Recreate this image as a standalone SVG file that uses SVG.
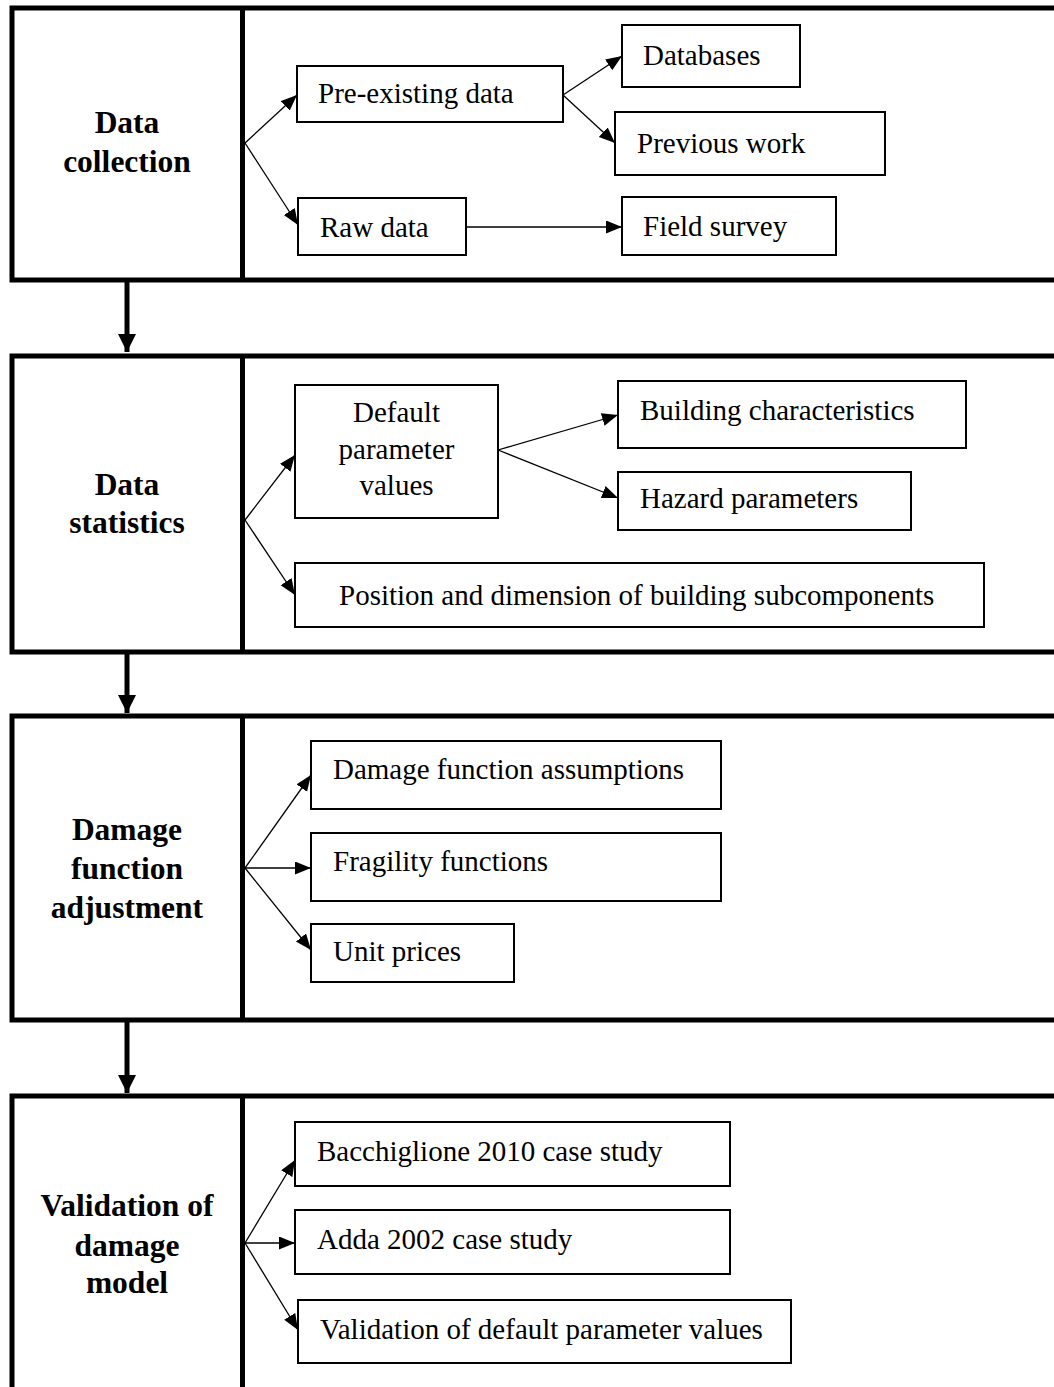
<svg xmlns="http://www.w3.org/2000/svg" width="1054" height="1387" viewBox="0 0 1054 1387">
<style>
.panel{fill:none;stroke:#000;stroke-width:5}
.box{fill:#fff;stroke:#000;stroke-width:2}
.t{font-family:"Liberation Serif","Times New Roman",serif;font-size:29px;fill:#000}
.h{font-family:"Liberation Serif","Times New Roman",serif;font-size:31.5px;font-weight:bold;fill:#000;text-anchor:middle}
.c{fill:none;stroke:#000;stroke-width:1.3}
.big{fill:none;stroke:#000;stroke-width:5}
</style>
<defs>
<marker id="a" markerUnits="userSpaceOnUse" markerWidth="18" markerHeight="14" refX="16" refY="6.5" orient="auto">
<path d="M0,0 L16,6.5 L0,13 z" fill="#000"/>
</marker>
<marker id="b" markerUnits="userSpaceOnUse" markerWidth="20" markerHeight="20" refX="18" refY="9" orient="auto">
<path d="M0,0 L18,9 L0,18 z" fill="#000"/>
</marker>
</defs>
<rect width="1054" height="1387" fill="#fff"/>

<g id="panel1">
<rect class="panel" x="12" y="8" width="1060" height="272"/>
<line class="panel" x1="242.5" y1="8" x2="242.5" y2="280"/>
<text class="h" x="127" y="133">Data</text>
<text class="h" x="127" y="172">collection</text>
</g>
<g id="panel2">
<rect class="panel" x="12" y="356" width="1060" height="296"/>
<line class="panel" x1="242.5" y1="356" x2="242.5" y2="652"/>
<text class="h" x="127" y="495">Data</text>
<text class="h" x="127" y="533">statistics</text>
</g>
<g id="panel3">
<rect class="panel" x="12" y="716" width="1060" height="304"/>
<line class="panel" x1="242.5" y1="716" x2="242.5" y2="1020"/>
<text class="h" x="127" y="840">Damage</text>
<text class="h" x="127" y="879">function</text>
<text class="h" x="127" y="918">adjustment</text>
</g>
<g id="panel4">
<path class="panel" d="M12,1400 L12,1096 L1072,1096"/>
<line class="panel" x1="242.5" y1="1096" x2="242.5" y2="1400"/>
<text class="h" x="127" y="1216">Validation of</text>
<text class="h" x="127" y="1256">damage</text>
<text class="h" x="127" y="1293">model</text>
</g>

<g id="pre-existing"><rect class="box" x="297" y="66" width="266" height="56"/><text class="t" x="318" y="103">Pre-existing data</text></g>
<g id="databases"><rect class="box" x="622" y="25" width="178" height="62"/><text class="t" x="643" y="65">Databases</text></g>
<g id="previous"><rect class="box" x="615" y="112" width="270" height="63"/><text class="t" x="637" y="153">Previous work</text></g>
<g id="raw"><rect class="box" x="298" y="198" width="168" height="57"/><text class="t" x="320" y="237">Raw data</text></g>
<g id="field"><rect class="box" x="622" y="197" width="214" height="58"/><text class="t" x="643" y="236">Field survey</text></g>

<g id="default"><rect class="box" x="295" y="385" width="203" height="133"/>
<text class="t" x="396.5" y="422" text-anchor="middle">Default</text>
<text class="t" x="396.5" y="459" text-anchor="middle">parameter</text>
<text class="t" x="396.5" y="495" text-anchor="middle">values</text></g>
<g id="building"><rect class="box" x="618" y="381" width="348" height="67"/><text class="t" x="640" y="420">Building characteristics</text></g>
<g id="hazard"><rect class="box" x="618" y="472" width="293" height="58"/><text class="t" x="640" y="508">Hazard parameters</text></g>
<g id="position"><rect class="box" x="295" y="563" width="689" height="64"/><text class="t" x="339" y="605">Position and dimension of building subcomponents</text></g>

<g id="assumptions"><rect class="box" x="311" y="741" width="410" height="68"/><text class="t" x="333" y="779">Damage function assumptions</text></g>
<g id="fragility"><rect class="box" x="311" y="833" width="410" height="68"/><text class="t" x="333" y="871">Fragility functions</text></g>
<g id="unit"><rect class="box" x="311" y="924" width="203" height="58"/><text class="t" x="333" y="961">Unit prices</text></g>

<g id="bacchiglione"><rect class="box" x="295" y="1122" width="435" height="64"/><text class="t" x="317" y="1161">Bacchiglione 2010 case study</text></g>
<g id="adda"><rect class="box" x="295" y="1210" width="435" height="64"/><text class="t" x="317" y="1249">Adda 2002 case study</text></g>
<g id="validation"><rect class="box" x="298" y="1300" width="493" height="63"/><text class="t" x="320" y="1339">Validation of default parameter values</text></g>

<g id="connectors">
<line class="big" x1="127" y1="282" x2="127" y2="352" marker-end="url(#b)"/>
<line class="big" x1="127" y1="654" x2="127" y2="713" marker-end="url(#b)"/>
<line class="big" x1="127" y1="1022" x2="127" y2="1093" marker-end="url(#b)"/>

<line class="c" x1="245" y1="143" x2="297" y2="95" marker-end="url(#a)"/>
<line class="c" x1="245" y1="143" x2="298" y2="225" marker-end="url(#a)"/>
<line class="c" x1="563" y1="95" x2="622" y2="56" marker-end="url(#a)"/>
<line class="c" x1="563" y1="95" x2="615" y2="143" marker-end="url(#a)"/>
<line class="c" x1="466" y1="227" x2="622" y2="227" marker-end="url(#a)"/>

<line class="c" x1="245" y1="520" x2="295" y2="455" marker-end="url(#a)"/>
<line class="c" x1="245" y1="520" x2="295" y2="595" marker-end="url(#a)"/>
<line class="c" x1="498" y1="450" x2="618" y2="415" marker-end="url(#a)"/>
<line class="c" x1="498" y1="450" x2="618" y2="498" marker-end="url(#a)"/>

<line class="c" x1="245" y1="868" x2="311" y2="775" marker-end="url(#a)"/>
<line class="c" x1="245" y1="868" x2="311" y2="868" marker-end="url(#a)"/>
<line class="c" x1="245" y1="868" x2="311" y2="950" marker-end="url(#a)"/>

<line class="c" x1="245" y1="1243" x2="295" y2="1160" marker-end="url(#a)"/>
<line class="c" x1="245" y1="1243" x2="295" y2="1243" marker-end="url(#a)"/>
<line class="c" x1="245" y1="1243" x2="298" y2="1330" marker-end="url(#a)"/>
</g>
</svg>
